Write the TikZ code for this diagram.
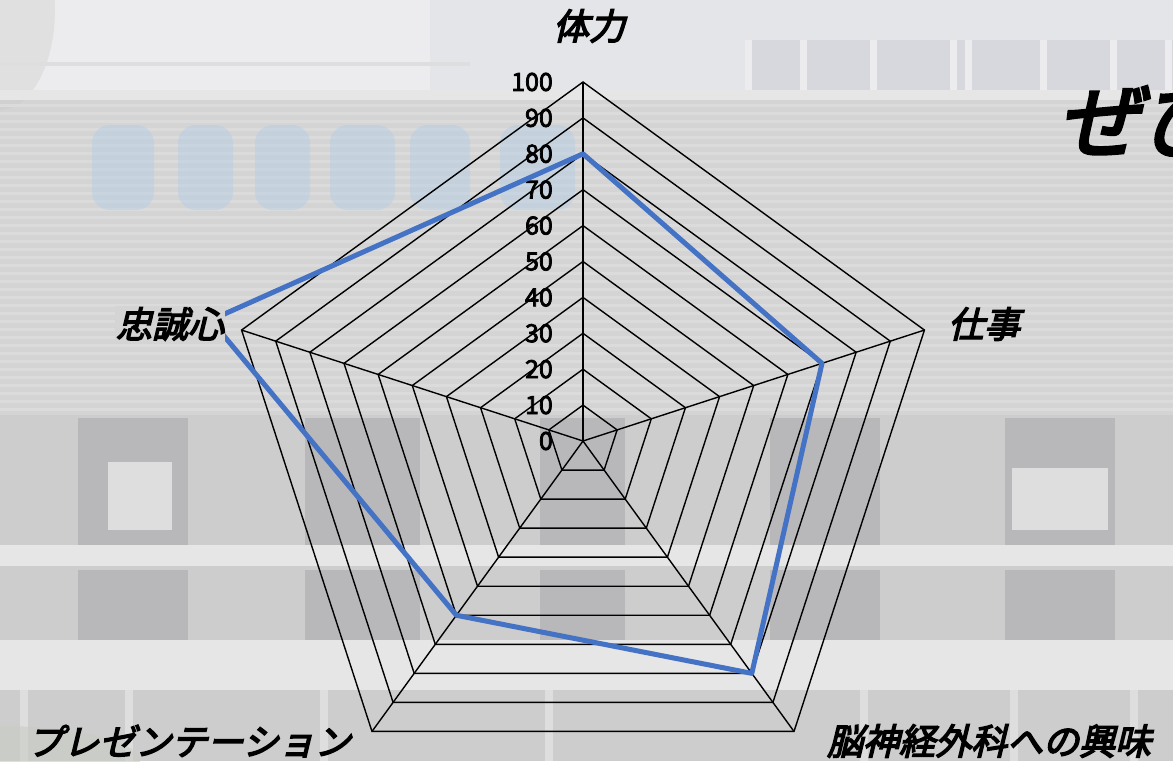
\documentclass[tikz,border=0pt]{standalone}
\usepackage{fontspec}
\usetikzlibrary{calc}
\newfontfamily\jpl{Noto Sans CJK JP}[FakeSlant=0.24,FakeBold=4]
\newfontfamily\jpt{Noto Sans CJK JP}[FakeSlant=0.22,FakeBold=4]
\newfontfamily\jpn{Noto Sans CJK JP}[FakeBold=3]
\definecolor{wall}{HTML}{D4D4D4}
\definecolor{wallstripe}{HTML}{DBDBDB}
\definecolor{sky}{HTML}{ECECEE}
\definecolor{topbld}{HTML}{E4E5E8}
\definecolor{winband}{HTML}{D6D8DD}
\definecolor{darkpanel}{HTML}{B8B8BA}
\definecolor{lightwin}{HTML}{DEDEDF}
\definecolor{band}{HTML}{E6E6E6}
\definecolor{lower}{HTML}{CDCDCE}
\definecolor{signblue}{HTML}{B3CDE8}
\definecolor{tree}{HTML}{C9CCC4}
\definecolor{dataline}{HTML}{4472C4}
\tikzset{
  gridline/.style={black,line width=1.4pt,line join=miter},
  spoke/.style={black,line width=1.4pt},
  datapath/.style={dataline,line width=5pt,line join=round},
  axislabel/.style={font=\jpl\fontsize{36}{36}\selectfont,inner sep=1pt},
  numlabel/.style={font=\jpn\fontsize{25}{25}\selectfont,inner sep=0pt,anchor=east},
  titletext/.style={font=\jpt\fontsize{82}{82}\selectfont,inner sep=0pt,anchor=west}
}
\begin{document}
\begin{tikzpicture}[x=1pt,y=-1pt]
\useasboundingbox (0,0) rectangle (1173,761);
\begin{scope}
\clip (0,0) rectangle (1173,761);
% ---- background (faded photo of a building) ----
\fill[wall] (0,0) rectangle (1173,761);
\fill[sky] (0,0) rectangle (1173,92);
\fill[topbld] (430,0) rectangle (1173,100);
\fill[winband] (745,40) rectangle (1173,95);
\foreach \x in {745,800,870,950,965,1040,1110,1165} \fill[sky] (\x,40) rectangle (\x+7,95);
\fill[tree,opacity=0.35] (0,10) ellipse (55 and 100);
\fill[lightwin] (0,62) rectangle (470,66);
\fill[band] (0,90) rectangle (1173,100);
\foreach \y in {104,112,...,420} \fill[wallstripe] (0,\y) rectangle (1173,\y+3);
% blurred blue sign
\foreach \x/\w in {92/62,178/55,255/55,330/65,410/60,500/75}
  \fill[signblue,opacity=0.45,rounded corners=18pt] (\x,125) rectangle (\x+\w,210);
% lower floors
\fill[lower] (0,415) rectangle (1173,761);
\foreach \x/\w in {78/110,305/115,540/85,770/110,1005/110}
  \fill[darkpanel] (\x,418) rectangle (\x+\w,545);
\fill[lightwin] (108,462) rectangle (172,530);
\fill[lightwin] (1012,468) rectangle (1108,530);
\fill[band] (0,545) rectangle (1173,566);
\foreach \x/\w in {78/110,305/115,540/85,770/110,1005/110}
  \fill[darkpanel] (\x,570) rectangle (\x+\w,640);
\fill[band] (0,640) rectangle (1173,690);
\foreach \x in {20,125,320,545,860,1010,1130} \fill[lightwin] (\x,690) rectangle (\x+8,761);
\fill[tree,opacity=0.6] (0,761) ellipse (140 and 35);
\end{scope}
% ---- radar grid ----
\coordinate (C) at (583,441);
\foreach \k in {1,...,10}
  \draw[gridline] ($(C)+(-90:{\k*35.9})$) -- ($(C)+(-18:{\k*35.9})$) -- ($(C)+(54:{\k*35.9})$)
     -- ($(C)+(126:{\k*35.9})$) -- ($(C)+(198:{\k*35.9})$) -- cycle;
\coordinate (a1) at ($(C)+(-90:359)$);
\coordinate (a2) at ($(C)+(-18:359)$);
\coordinate (a3) at ($(C)+(54:359)$);
\coordinate (a4) at ($(C)+(126:359)$);
\coordinate (a5) at ($(C)+(198:359)$);
\foreach \a in {a1,a2,a3,a4,a5} \draw[spoke] (C) -- (\a);
% ---- scale numbers ----
\foreach \k [evaluate=\k as \v using int(\k*10)] in {0,...,10}
  \node[numlabel] (n\k) at (553,{441-35.9*\k}) {\v};
% ---- data ----
\coordinate (d1) at ($(C)+(-90:{80*3.59})$);
\coordinate (d2) at ($(C)+(-18:{70*3.59})$);
\coordinate (d3) at ($(C)+(54:{80*3.59})$);
\coordinate (d4) at ($(C)+(126:{60*3.59})$);
\coordinate (d5) at ($(C)+(198:{109*3.59})$);
\draw[datapath] (d1) -- (d2) -- (d3) -- (d4) -- (d5) -- cycle;
% ---- axis labels ----
\node[axislabel] (l1) at (589,26) {体力};
\node[axislabel] (l2) at (984,324) {仕事};
\node[axislabel] (l3) at (989,741) {脳神経外科への興味};
\node[axislabel] (l4) at (189,741) {プレゼンテーション};
\node[axislabel,fill=wall] (l5) at (170,324) {忠誠心};
% ---- title (cut by the right edge, as in the reference) ----
\node[titletext] (title) at (1058,121) {ぜひ};
\end{tikzpicture}
\end{document}
